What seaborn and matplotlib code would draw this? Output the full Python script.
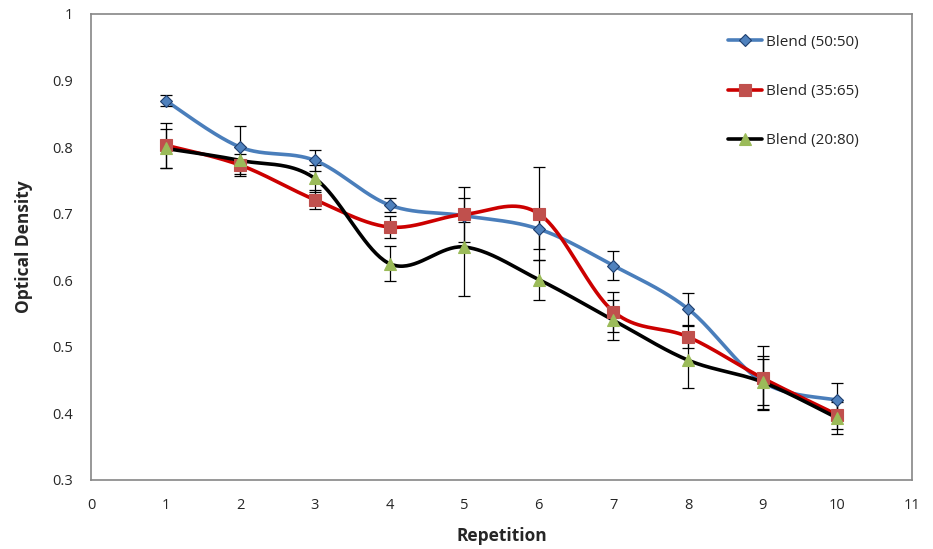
import numpy as np
import pandas as pd
import matplotlib
matplotlib.use("Agg")
import matplotlib.pyplot as plt
from matplotlib.lines import Line2D
import seaborn as sns

repetition = [1, 2, 3, 4, 5, 6, 7, 8, 9, 10]
blend_50_50 = [0.870, 0.800, 0.780, 0.713, 0.697, 0.677, 0.622, 0.557, 0.447, 0.420]
err_50_50 = [0.008, 0.032, 0.016, 0.010, 0.010, 0.030, 0.022, 0.024, 0.040, 0.025]
blend_35_65 = [0.803, 0.773, 0.721, 0.680, 0.699, 0.700, 0.553, 0.515, 0.453, 0.398]
err_35_65 = [0.034, 0.017, 0.014, 0.016, 0.041, 0.070, 0.030, 0.016, 0.048, 0.022]
blend_20_80 = [0.798, 0.780, 0.753, 0.625, 0.650, 0.601, 0.540, 0.480, 0.447, 0.393]
err_20_80 = [0.030, 0.020, 0.020, 0.026, 0.074, 0.030, 0.030, 0.042, 0.035, 0.024]
labels = ["Blend (50:50)", "Blend (35:65)", "Blend (20:80)"]
x_ticks = list(range(0, 12))
y_ticks = [0.3, 0.4, 0.5, 0.6, 0.7, 0.8, 0.9, 1.0]


def smooth(xs, ys, n=40):
    """Excel-like smoothed line: cubic Bezier with Catmull-Rom control points."""
    P = np.column_stack([xs, ys]).astype(float)
    out = []
    for i in range(len(P) - 1):
        p0 = P[i - 1] if i > 0 else P[i]
        p1, p2 = P[i], P[i + 1]
        p3 = P[i + 2] if i + 2 < len(P) else P[i + 1]
        c1 = p1 + (p2 - p0) / 6.0
        c2 = p2 - (p3 - p1) / 6.0
        t = np.linspace(0, 1, n)[:, None]
        seg = ((1 - t) ** 3) * p1 + 3 * ((1 - t) ** 2) * t * c1 + 3 * (1 - t) * t ** 2 * c2 + t ** 3 * p2
        out.append(seg if i == 0 else seg[1:])
    return np.vstack(out)


sns.set_theme(style="white")
plt.rcParams['font.family'] = ['Open Sans', 'DejaVu Sans']

fig = plt.figure(figsize=(9.33, 5.49), dpi=100)
ax = fig.add_axes([0.0975, 0.1257, 0.88, 0.8488])

series = [
    (blend_50_50, err_50_50, "#4A7EBB", "D", "#4F81BD", "#1F3F6F", 6.5),
    (blend_35_65, err_35_65, "#CC0000", "s", "#C0504D", "#C0504D", 8.5),
    (blend_20_80, err_20_80, "#000000", "^", "#9BBB59", "#9BBB59", 9),
]

handles = []
for (vals, errs, lc, mk, mfc, mec, ms), lab in zip(series, labels):
    curve = smooth(repetition, vals)
    df = pd.DataFrame({"x": curve[:, 0], "y": curve[:, 1]})
    sns.lineplot(data=df, x="x", y="y", ax=ax, color=lc, lw=2.6, sort=False,
                 estimator=None, zorder=2)
    ax.errorbar(repetition, vals, yerr=errs, fmt="none", ecolor="#000000",
                elinewidth=0.9, capsize=4, capthick=0.9, zorder=3)
    ax.plot(repetition, vals, ls="none", marker=mk, ms=ms, mfc=mfc, mec=mec,
            mew=0.8, zorder=4)
    handles.append(Line2D([0], [0], color=lc, lw=2.6, marker=mk, ms=ms,
                          mfc=mfc, mec=mec, mew=0.8))

ax.set_xlim(0, 11)
ax.set_ylim(0.3, 1.0)
ax.set_xticks(x_ticks)
ax.set_xticklabels([str(v) for v in x_ticks])
ax.set_yticks(y_ticks)
ax.set_yticklabels(["0.3", "0.4", "0.5", "0.6", "0.7", "0.8", "0.9", "1"])
ax.tick_params(axis="both", which="major", direction="out", length=5, width=1,
               color="#868686", labelsize=10.5, pad=8)
ax.tick_params(axis="x", pad=8)
for sp in ax.spines.values():
    sp.set_color("#868686")
    sp.set_linewidth(1.2)

ax.set_xlabel("Repetition", fontsize=12.5, fontweight="bold", labelpad=10)
ax.set_ylabel("Optical Density", fontsize=12.5, fontweight="bold", labelpad=14)

leg = ax.legend(handles, labels, loc="upper right", bbox_to_anchor=(0.952, 0.985),
                frameon=False, fontsize=11, labelspacing=2.25, handlelength=2.2,
                handletextpad=0.3)

fig.savefig("out.png", dpi=100)
